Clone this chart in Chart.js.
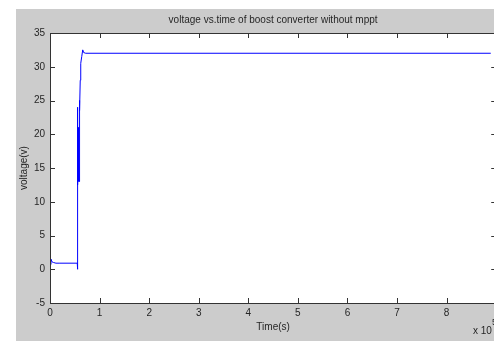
<!DOCTYPE html>
<html>
<head>
<meta charset="utf-8">
<script src="https://cdn.jsdelivr.net/npm/chart.js@4"></script>
<style>
  html, body { margin: 0; padding: 0; overflow: hidden; background: #fff; }
  canvas { display: block; }
</style>
</head>
<body>
<canvas id="chart" width="503" height="341"></canvas>
<script>
// time (x 10^5) and voltage
const timeVals = [0, 0.02, 0.04, 0.07, 0.12, 0.2, 0.55, 0.552, 0.556, 0.562, 0.568, 0.574, 0.58, 0.586, 0.592, 0.6, 0.61, 0.62, 0.64, 0.66, 0.68, 0.72, 8.89];
const voltVals = [0.7, 1.5, 1.1, 1.0, 0.9, 0.9, 0.9, 0, 24, 12.5, 21, 13, 16, 13, 25, 23.5, 28, 30.5, 31.5, 32.5, 32.1, 32, 32];
const xTicks = [0, 1, 2, 3, 4, 5, 6, 7, 8, 9];
const yTicks = [-5, 0, 5, 10, 15, 20, 25, 30, 35];

const points = timeVals.map((t, i) => ({ x: t, y: voltVals[i] }));

const FONT = "'Liberation Sans', Arial, sans-serif";
const TXT = "#262626";

// matlab style figure: grey frame, white axes, inward ticks on all sides
const matlabFrame = {
  id: "matlabFrame",
  beforeDraw(chart) {
    const ctx = chart.ctx;
    const a = chart.chartArea;
    ctx.save();
    ctx.fillStyle = "#fff";
    ctx.fillRect(0, 0, chart.width, chart.height);
    ctx.fillStyle = "#cccccc";
    ctx.fillRect(16, 9, chart.width - 16, chart.height - 9);
    ctx.fillStyle = "#fff";
    ctx.fillRect(a.left, a.top, a.right - a.left, a.bottom - a.top);
    ctx.restore();
  },
  afterDraw(chart) {
    const ctx = chart.ctx;
    const a = chart.chartArea;
    const xs = chart.scales.x, ys = chart.scales.y;
    ctx.save();
    ctx.strokeStyle = "#333";
    ctx.lineWidth = 1;
    ctx.strokeRect(Math.round(a.left) + 0.5, Math.round(a.top) + 0.5, a.right - a.left, a.bottom - a.top);
    ctx.beginPath();
    xTicks.forEach(v => {
      const px = Math.round(xs.getPixelForValue(v)) + 0.5;
      ctx.moveTo(px, a.bottom); ctx.lineTo(px, a.bottom - 5);
      ctx.moveTo(px, a.top); ctx.lineTo(px, a.top + 5);
    });
    yTicks.forEach(v => {
      const py = Math.round(ys.getPixelForValue(v)) + 0.5;
      ctx.moveTo(a.left, py); ctx.lineTo(a.left + 5, py);
      ctx.moveTo(a.right, py); ctx.lineTo(a.right - 5, py);
    });
    ctx.stroke();
    // exponent label
    ctx.fillStyle = TXT;
    ctx.font = "10px " + FONT;
    ctx.textBaseline = "middle";
    ctx.textAlign = "left";
    ctx.fillText("x 10", 473, 331);
    ctx.font = "9px " + FONT;
    ctx.fillText("5", 492, 323);
    ctx.restore();
  }
};

new Chart(document.getElementById("chart"), {
  type: "line",
  data: {
    datasets: [{
      data: points,
      borderColor: "#0000ff",
      borderWidth: 1,
      pointRadius: 0,
      tension: 0,
      fill: false
    }]
  },
  options: {
    responsive: false,
    animation: false,
    layout: { padding: { left: 16, top: 9, right: 1.5, bottom: 0 } },
    plugins: {
      legend: { display: false },
      tooltip: { enabled: false },
      title: {
        display: true,
        text: "voltage vs.time of boost converter without mppt",
        fullSize: false,
        color: TXT,
        font: { family: FONT, size: 10, weight: "normal", lineHeight: 1.2 },
        padding: { top: 5, bottom: 7 }
      }
    },
    scales: {
      x: {
        type: "linear",
        min: 0,
        max: 9,
        afterFit: s => { s.height = 38; },
        afterBuildTicks: s => { s.ticks = xTicks.map(v => ({ value: v })); },
        grid: { display: true, drawOnChartArea: false, drawTicks: false },
        border: { display: false },
        ticks: { padding: 4, maxRotation: 0, autoSkip: false, color: TXT, font: { family: FONT, size: 10 } },
        title: { display: true, text: "Time(s)", color: TXT, font: { family: FONT, size: 10 }, padding: { top: 0, bottom: 8 } }
      },
      y: {
        type: "linear",
        min: -5,
        max: 35,
        afterFit: s => { s.width = 34; },
        afterBuildTicks: s => { s.ticks = yTicks.map(v => ({ value: v })); },
        grid: { display: true, drawOnChartArea: false, drawTicks: false },
        border: { display: false },
        ticks: { padding: 5, autoSkip: false, color: TXT, font: { family: FONT, size: 10 } },
        title: { display: true, text: "voltage(v)", color: TXT, font: { family: FONT, size: 10 }, padding: { top: 2.5, bottom: 0 } }
      }
    }
  },
  plugins: [matlabFrame]
});
</script>
</body>
</html>
